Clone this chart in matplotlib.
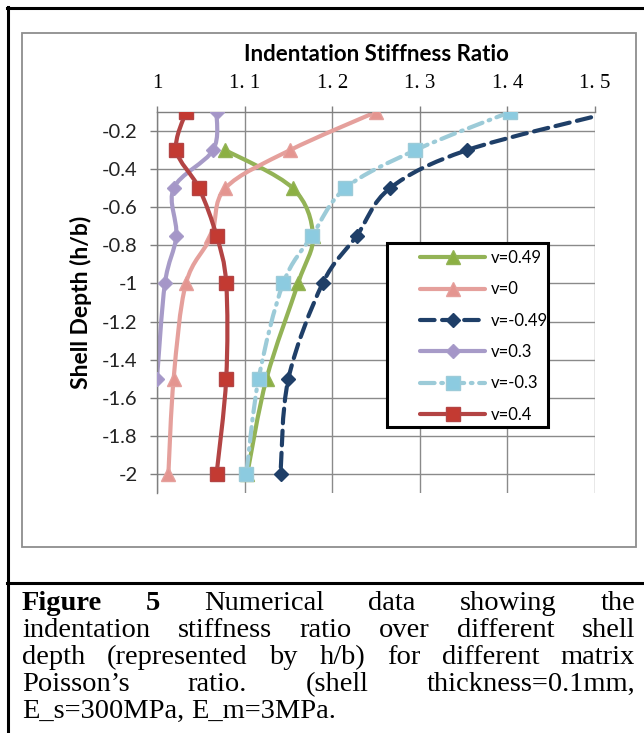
import matplotlib
matplotlib.use("Agg")
import matplotlib.pyplot as plt
from matplotlib.path import Path
from matplotlib.patches import PathPatch, Rectangle
from matplotlib.lines import Line2D

# shell depth (h/b) and indentation stiffness ratio, per matrix Poisson's ratio
depth_049 = [-0.3, -0.5, -0.75, -1.0, -1.5, -2.0]
ratio_049 = [1.078, 1.155, 1.178, 1.161, 1.125, 1.103]

depth_0 = [-0.1, -0.3, -0.5, -0.75, -1.0, -1.5, -2.0]
ratio_0 = [1.25, 1.152, 1.078, 1.062, 1.033, 1.019, 1.013]

depth_m049 = [-0.1, -0.3, -0.5, -0.75, -1.0, -1.5, -2.0]
ratio_m049 = [1.52, 1.354, 1.266, 1.228, 1.189, 1.150, 1.141]

depth_03 = [-0.1, -0.3, -0.5, -0.75, -1.0, -1.5]
ratio_03 = [1.068, 1.064, 1.019, 1.022, 1.009, 1.000]

depth_m03 = [-0.1, -0.3, -0.5, -0.75, -1.0, -1.5, -2.0]
ratio_m03 = [1.403, 1.295, 1.215, 1.177, 1.144, 1.116, 1.102]

depth_04 = [-0.1, -0.3, -0.5, -0.75, -1.0, -1.5, -2.0]
ratio_04 = [1.033, 1.022, 1.048, 1.068, 1.079, 1.079, 1.068]

x_ticks = [1.0, 1.1, 1.2, 1.3, 1.4, 1.5]
x_tick_labels = ["1", "1. 1", "1. 2", "1. 3", "1. 4", "1. 5"]
y_ticks = [-0.2, -0.4, -0.6, -0.8, -1.0, -1.2, -1.4, -1.6, -1.8, -2.0]
y_tick_labels = ["-0.2", "-0.4", "-0.6", "-0.8", "-1", "-1.2", "-1.4", "-1.6", "-1.8", "-2"]

series = [
    # label, x, y, line colour, marker, marker colour, dashes
    ("v=0.49", ratio_049, depth_049, "#93b356", "^", "#8cb043", None),
    ("v=0", ratio_0, depth_0, "#e5a09c", "^", "#e49590", None),
    ("v=-0.49", ratio_m049, depth_m049, "#1f3f68", "D", "#1f3f68", (3.5, 1.8)),
    ("v=0.3", ratio_03, depth_03, "#a79bc8", "D", "#a596c8", None),
    ("v=-0.3", ratio_m03, depth_m03, "#9ccbd8", "s", "#8ccbe0", (3.5, 1.6, 0.4, 1.6)),
    ("v=0.4", ratio_04, depth_04, "#b34444", "s", "#c33a32", None),
]

caption_lines = [
    [("Figure", True), ("5", True), ("Numerical", False), ("data", False), ("showing", False), ("the", False)],
    [(w, False) for w in "indentation stiffness ratio over different shell".split()],
    [(w, False) for w in "depth (represented by h/b) for different matrix".split()],
    [(w, False) for w in "Poisson\u2019s ratio. (shell thickness=0.1mm,".split()],
    [(w, False) for w in "E_s=300MPa, E_m=3MPa.".split()],
]

W, H = 644, 733
fig = plt.figure(figsize=(W / 100, H / 100), dpi=100)


def fx(px):
    return px / W


def fy(py):
    return 1 - py / H


# outer frame and separators
fig.add_artist(Line2D([fx(8), fx(8)], [fy(7), fy(733)], color="black", lw=2.2))
fig.add_artist(Line2D([fx(7), fx(644)], [fy(8), fy(8)], color="black", lw=2.2))
fig.add_artist(Line2D([fx(7), fx(644)], [fy(583), fy(583)], color="black", lw=2.2))
fig.add_artist(Rectangle((fx(22), fy(547)), fx(636) - fx(22), fy(33) - fy(547),
                         fill=False, ec="#8e8e8e", lw=1.3))

ax = fig.add_axes([fx(157), fy(493), fx(595) - fx(157), fy(112) - fy(493)])
ax.set_xlim(1.0, 1.5)
ax.set_ylim(-2.1, -0.1)
for s in ["right", "bottom"]:
    ax.spines[s].set_visible(False)
for s in ["top", "left"]:
    ax.spines[s].set_color("#7f7f7f")
    ax.spines[s].set_linewidth(1.0)

ax.xaxis.tick_top()
ax.set_xticks(x_ticks)
ax.set_xticklabels(x_tick_labels, family="Liberation Serif", fontsize=15)
ax.set_yticks(y_ticks)
ax.set_yticklabels(y_tick_labels, family="Lato", fontsize=14.5, color="#222222")
ax.tick_params(axis="x", length=4, width=1, color="#7f7f7f", pad=10)
ax.tick_params(axis="y", length=5, width=1, color="#7f7f7f", pad=9)
ax.grid(True, color="#8a8a8a", lw=1.0)
ax.set_axisbelow(True)

ax.set_xlabel("Indentation Stiffness Ratio", family="Lato", weight="bold", fontsize=16, labelpad=9)
ax.xaxis.set_label_position("top")
ax.set_ylabel("Shell Depth (h/b)", family="Lato", weight="bold", fontsize=16.5, labelpad=7)


def smooth_path(xs, ys):
    # Catmull-Rom style smoothing like Excel's smoothed lines
    pts = list(zip(xs, ys))
    verts = [pts[0]]
    codes = [Path.MOVETO]
    n = len(pts)
    for i in range(n - 1):
        p0 = pts[i - 1] if i > 0 else pts[i]
        p1 = pts[i]
        p2 = pts[i + 1]
        p3 = pts[i + 2] if i + 2 < n else pts[i + 1]
        c1 = (p1[0] + (p2[0] - p0[0]) / 6, p1[1] + (p2[1] - p0[1]) / 6)
        c2 = (p2[0] - (p3[0] - p1[0]) / 6, p2[1] - (p3[1] - p1[1]) / 6)
        verts += [c1, c2, p2]
        codes += [Path.CURVE4] * 3
    return Path(verts, codes)


handles = []
for label, xs, ys, lc, mk, mc, dash in series:
    patch = PathPatch(smooth_path(xs, ys), fill=False, ec=lc, lw=3.0,
                      capstyle="round", joinstyle="round")
    if dash is not None:
        patch.set_linestyle((0, dash))
    ax.add_patch(patch)
    ms = {"s": 10, "D": 7.5, "^": 10}[mk]
    ax.plot(xs, ys, linestyle="none", marker=mk, ms=ms, mfc=mc, mec=lc, mew=1.0,
            zorder=3, clip_on=True)
    h = Line2D([], [], color=lc, lw=3.0, marker=mk, ms=ms, mfc=mc, mec=lc,
               solid_capstyle="round", dash_capstyle="round")
    if dash is not None:
        h.set_dashes(dash)
    handles.append((h, label))

# legend box drawn like Excel's (wide left margin)
fig.add_artist(Rectangle((fx(387), fy(427)), fx(548) - fx(387), fy(243) - fy(427),
                         fill=True, fc="white", ec="black", lw=2.2, zorder=5))
leg = fig.legend([h for h, _ in handles], [l for _, l in handles],
                 loc="upper left", bbox_to_anchor=(fx(420), fy(250)),
                 bbox_transform=fig.transFigure, frameon=False,
                 handlelength=3.9, handletextpad=0.35, borderpad=0,
                 labelspacing=0.92, borderaxespad=0,
                 prop={"family": "Lato", "size": 12})
leg.set_zorder(6)

# justified caption
baselines = [610, 637, 664, 691, 718]
left_px, right_px = 22, 635
renderer = fig.canvas.get_renderer()
fs = 20.5
for li, (words, base) in enumerate(zip(caption_lines, baselines)):
    texts = []
    for w, bold in words:
        t = fig.text(0, fy(base), w, family="Liberation Serif", fontsize=fs,
                     weight="bold" if bold else "normal", va="baseline", ha="left")
        texts.append(t)
    widths = [t.get_window_extent(renderer).width for t in texts]
    if li < len(caption_lines) - 1:
        gap = (right_px - left_px - sum(widths)) / (len(words) - 1)
    else:
        gap = fs * 0.25 * 100 / 72
    xpos = left_px
    for t, w in zip(texts, widths):
        t.set_x(fx(xpos))
        xpos += w + gap

fig.savefig("out.png", dpi=100)
